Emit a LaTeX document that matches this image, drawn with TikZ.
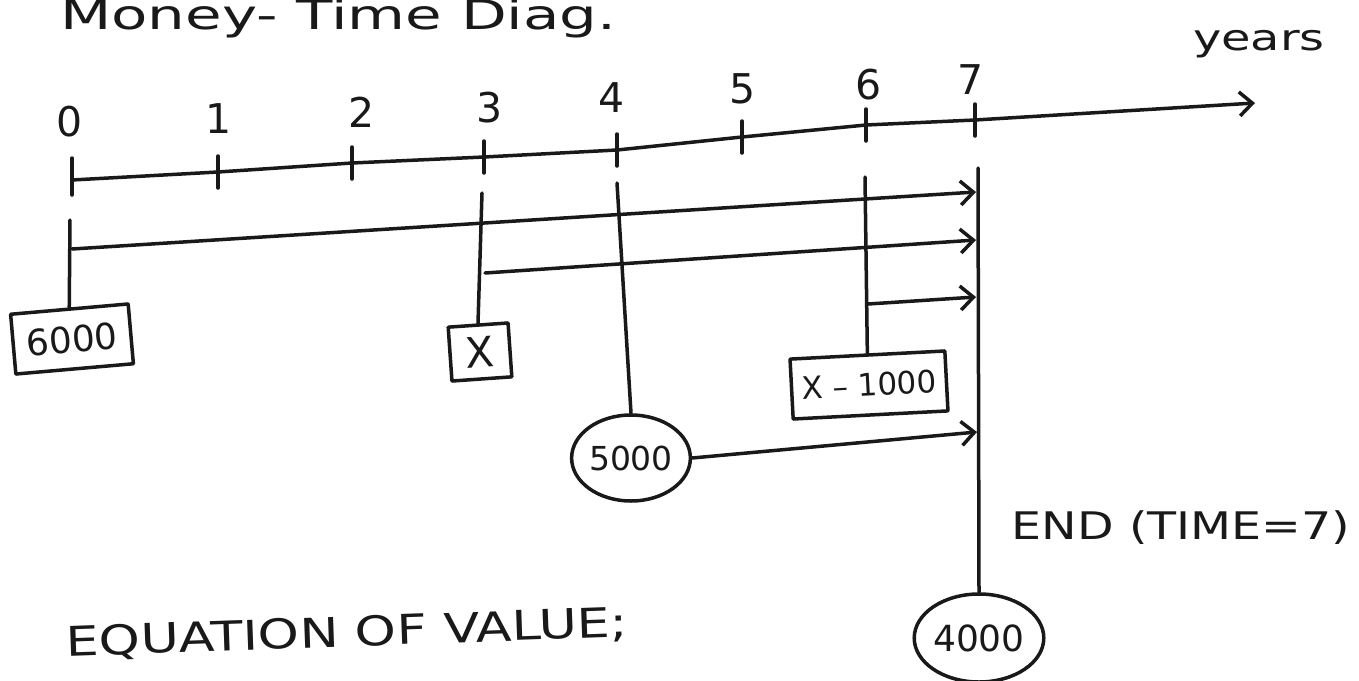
\documentclass[tikz,border=0pt]{standalone}
\usepackage{fontspec}
\usepackage{graphicx}
\setmainfont{DejaVu Sans}
\usetikzlibrary{arrows.meta,shapes.geometric}

% font size helper and horizontal stretch for the wide hand lettering
\newcommand{\fsz}[1]{\fontsize{#1}{#1}\selectfont}
\newcommand{\wide}[2]{\scalebox{#1}[1]{#2}}

\begin{document}
\begin{tikzpicture}[x=1pt,y=1pt,
  ink/.style={line width=3.5pt, line cap=round, line join=round, draw=black!90},
  flow/.style={ink, -{Straight Barb[length=13pt,width=24pt]}},
  ticklbl/.style={inner sep=0pt, text=black!90, font=\fsz{41}},
  note/.style={inner sep=0pt, text=black!90},
  cashbox/.style={ink, rectangle, inner sep=0pt, text=black!90},
  cashoval/.style={ink, ellipse, inner sep=0pt, text=black!90}
]
\useasboundingbox (0,0) rectangle (1359,-680);
\clip (0,0) rectangle (1359,-680);

% title (runs off the top edge of the sheet)
\node[note, anchor=base west, font=\fsz{41}] (title) at (60,-29) {\wide{1.45}{Money- Time Diag.}};

% time axis
\coordinate (t0) at (72,-180);
\coordinate (t1) at (218,-172);
\coordinate (t2) at (352,-163);
\coordinate (t3) at (484,-157);
\coordinate (t4) at (617,-150);
\coordinate (t5) at (742,-137);
\coordinate (t6) at (866,-125);
\coordinate (t7) at (975,-120);
\coordinate (tip) at (1255,-103);
\draw[flow] (t0) -- (t1) -- (t2) -- (t3) -- (t4) -- (t5) -- (t6) -- (t7) -- (tip);
\draw[ink] ([yshift=22pt]t0) -- ([yshift=-15pt]t0);
\foreach \i in {1,...,7} \draw[ink] ([yshift=16pt]t\i) -- ([yshift=-16pt]t\i);

\node[ticklbl] (l0) at (70,-122) {0};
\node[ticklbl] (l1) at (219,-119) {1};
\node[ticklbl] (l2) at (362,-112) {2};
\node[ticklbl] (l3) at (490,-108) {3};
\node[ticklbl] (l4) at (612,-98) {4};
\node[ticklbl] (l5) at (743,-89) {5};
\node[ticklbl] (l6) at (869,-85) {6};
\node[ticklbl] (l7) at (971,-80) {7};

\node[note, anchor=base, font=\fsz{36}] (years) at (1259,-50) {\wide{1.33}{years}};

% cash flows
\node[cashbox, draw, minimum width=118pt, minimum height=60pt, rotate=5, font=\fsz{36}] (c0) at (72,-339) {6000};
\node[cashbox, draw, minimum width=60pt, minimum height=54pt, rotate=4, font=\fsz{42}] (c3) at (480,-352) {X};
\node[cashoval, draw, minimum width=112pt, minimum height=86pt, font=\fsz{33}] (c4) at (631,-458) {5000};
\node[cashbox, draw, minimum width=155pt, minimum height=60pt, rotate=3, font=\fsz{31}] (c6) at (869,-385) {X – 1000};
\node[cashoval, draw, minimum width=122pt, minimum height=88pt, font=\fsz{36}] (c7) at (979,-638) {4000};

% drop lines from the time axis to each amount
\coordinate (d0) at (70,-220);
\coordinate (d3) at (482,-193);
\coordinate (d4) at (617,-183);
\coordinate (d6) at (865,-177);
\coordinate (d7) at (978,-168);
\draw[ink] (d0) -- (c0.north);
\draw[ink] (d3) -- (c3.north);
\draw[ink] (d4) -- (c4.north);
\draw[ink] (d6) -- (c6.north);
\draw[ink] (d7) -- (c7.north);

% accumulation of each amount to time 7
\coordinate (sA) at (72,-249);
\coordinate (eA) at (976,-192);
\coordinate (sB) at (485,-273);
\coordinate (eB) at (976,-240);
\coordinate (sC) at (868,-304);
\coordinate (eC) at (976,-297);
\coordinate (eD) at (977,-432);
\draw[flow] (sA) -- (eA);
\draw[flow] (sB) -- (eB);
\draw[flow] (sC) -- (eC);
\draw[flow] (c4.east) -- (eD);

% notes
\node[note, font=\fsz{38}] (endnote) at (1181,-528) {\wide{1.25}{END (TIME=7)}};
\node[note, font=\fsz{41}, rotate=2] (eqv) at (347,-634) {\wide{1.28}{EQUATION OF VALUE;}};
\end{tikzpicture}
\end{document}
